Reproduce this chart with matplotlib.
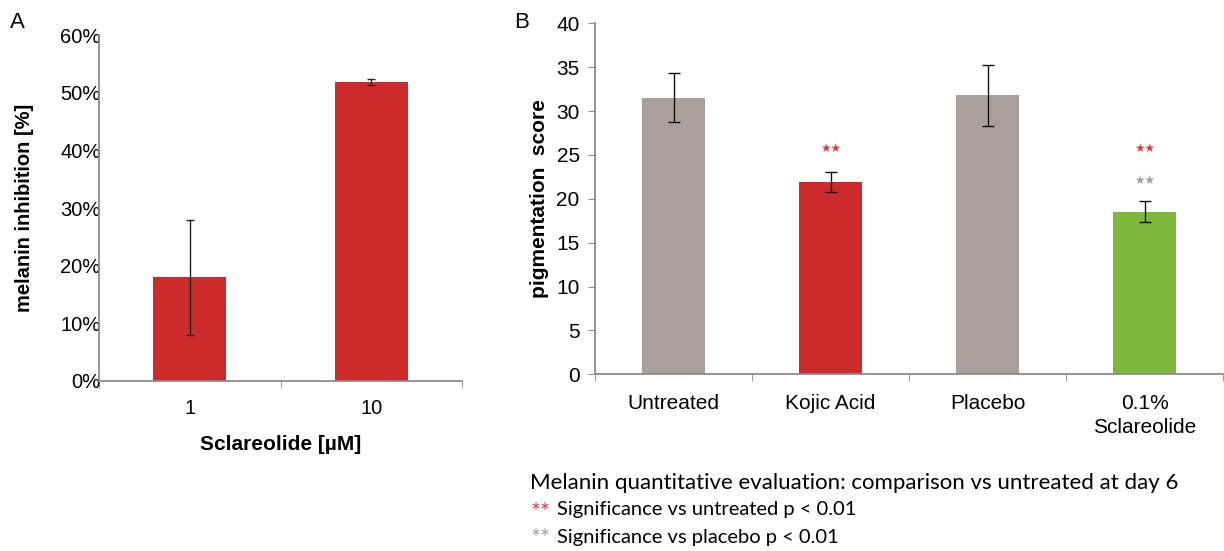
import matplotlib.pyplot as plt
from matplotlib.ticker import FixedLocator

# panel A data
conc_labels = ["1", "10"]
inhibition = [18.0, 51.8]
inhibition_err = [10.0, 0.5]

# panel B data
groups = ["Untreated", "Kojic Acid", "Placebo", "0.1%\nSclareolide"]
pigment = [31.5, 21.9, 31.8, 18.5]
pigment_err = [2.8, 1.1, 3.5, 1.2]
group_colors = ["#A9A09E", "#CC2A2B", "#A9A09E", "#7DB83C"]

# significance marks (group index, y position, colour)
stars = [(1, 25.7, "#E03A3A"), (3, 25.75, "#E03A3A"), (3, 22.05, "#A0A0A0")]

W, H = 1224, 551
fig = plt.figure(figsize=(W / 100, H / 100), dpi=100)
plt.rcParams["font.family"] = ["Liberation Sans", "DejaVu Sans"]
spine_c = "#8C8C8C"


def px_axes(x0, y0, x1, y1):
    return fig.add_axes([x0 / W, 1 - y1 / H, (x1 - x0) / W, (y1 - y0) / H])


# ---------------- panel A ----------------
axA = px_axes(99, 35, 462, 381)
xa = range(len(conc_labels))
axA.bar(xa, inhibition, width=0.4, color="#CC2A2B", zorder=2)
axA.errorbar(xa, inhibition, yerr=inhibition_err, fmt="none", ecolor="#222222",
             elinewidth=1, capsize=3, capthick=1, zorder=3)
axA.set_xlim(-0.5, 1.5)
axA.set_ylim(0, 60)
axA.set_yticks(range(0, 61, 10))
axA.set_yticklabels([f"{v}%" for v in range(0, 61, 10)], fontsize=14.5)
axA.tick_params(axis="y", length=0, pad=-1)
axA.set_xticks(list(xa))
axA.set_xticklabels(conc_labels, fontsize=14.5)
axA.tick_params(axis="x", which="major", length=0, pad=13)
axA.xaxis.set_minor_locator(FixedLocator([-0.5, 0.5, 1.5]))
axA.tick_params(axis="x", which="minor", length=5, color=spine_c)
for s in ["top", "right"]:
    axA.spines[s].set_visible(False)
for s in ["left", "bottom"]:
    axA.spines[s].set_color(spine_c)
    axA.spines[s].set_linewidth(1.3)
axA.set_ylabel("melanin inhibition [%]", fontsize=14.5, fontweight="bold", labelpad=19)
axA.set_xlabel("Sclareolide [µM]", fontsize=15, fontweight="bold", labelpad=12)

# ---------------- panel B ----------------
axB = px_axes(595, 23.3, 1223, 374.3)
xb = range(len(groups))
axB.bar(xb, pigment, width=0.4, color=group_colors, zorder=2)
axB.errorbar(xb, pigment, yerr=pigment_err, fmt="none", ecolor="#111111",
             elinewidth=1, capsize=4, capthick=1, zorder=3)
axB.set_xlim(-0.5, 3.5)
axB.set_ylim(0, 40)
axB.set_yticks(range(0, 41, 5))
axB.set_yticklabels([str(v) for v in range(0, 41, 5)], fontsize=15)
axB.tick_params(axis="y", length=5, color=spine_c, pad=6)
axB.set_xticks(list(xb))
axB.set_xticklabels(groups, fontsize=15, linespacing=1.35)
axB.tick_params(axis="x", which="major", length=0, pad=14)
axB.xaxis.set_minor_locator(FixedLocator([-0.5, 0.5, 1.5, 2.5, 3.5]))
axB.tick_params(axis="x", which="minor", length=5, color=spine_c)
for s in ["top", "right"]:
    axB.spines[s].set_visible(False)
for s in ["left", "bottom"]:
    axB.spines[s].set_color(spine_c)
    axB.spines[s].set_linewidth(1.3)
axB.set_ylabel("pigmentation  score", fontsize=15, fontweight="bold", labelpad=5)
for i, y, c in stars:
    axB.text(i, y, "★★", color=c, fontsize=8.5, ha="center", va="center",
             family="DejaVu Sans")

# panel letters
fig.text(10 / W, 1 - 22 / H, "A", fontsize=16, va="center", ha="left")
fig.text(514 / W, 1 - 22 / H, "B", fontsize=16, va="center", ha="left")

# caption
cap_font = ["Lato", "DejaVu Sans"]
fig.text(530 / W, 1 - 483 / H, "Melanin quantitative evaluation: comparison vs untreated at day 6",
         fontsize=16, family=cap_font, va="center", ha="left")
fig.text(531 / W, 1 - 512 / H, "**", fontsize=17, color="#E03A3A", family=cap_font, va="center")
fig.text(557 / W, 1 - 510 / H, "Significance vs untreated p < 0.01",
         fontsize=14.5, family=cap_font, va="center", ha="left")
fig.text(531 / W, 1 - 539 / H, "**", fontsize=17, color="#A0A0A0", family=cap_font, va="center")
fig.text(557 / W, 1 - 537 / H, "Significance vs placebo p < 0.01",
         fontsize=14.5, family=cap_font, va="center", ha="left")

fig.savefig("out.png", dpi=100)
